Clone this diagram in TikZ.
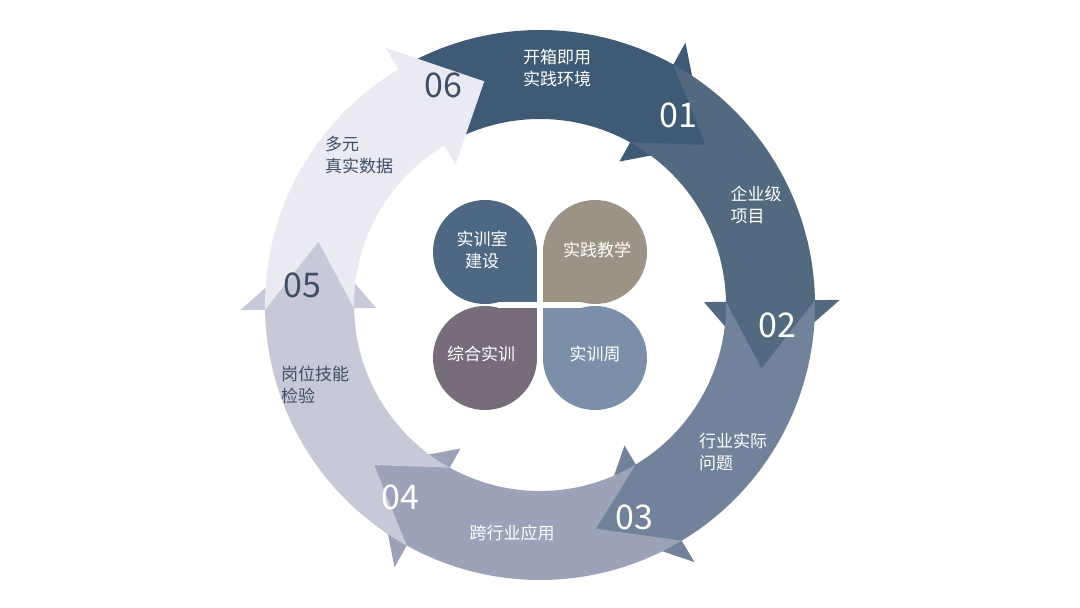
\documentclass[tikz,border=0pt]{standalone}
\usepackage{fontspec}
\usetikzlibrary{calc}
\setmainfont{Noto Sans CJK SC}
\begin{document}
\begin{tikzpicture}[x=1pt,y=1pt,
  lab/.style={text=white,font=\fontsize{17}{22}\selectfont,align=left},
  num/.style={font=\fontsize{34}{34}\selectfont},
  ptxt/.style={text=white,font=\fontsize{17}{22}\selectfont,align=center}]
\definecolor{cA}{HTML}{3F5A74}
\definecolor{cB}{HTML}{53697F}
\definecolor{cC}{HTML}{71829A}
\definecolor{cD}{HTML}{9CA3B8}
\definecolor{cE}{HTML}{C8C9D8}
\definecolor{cF}{HTML}{EAEAF3}
\definecolor{dk}{HTML}{3D4F66}
\definecolor{pA}{HTML}{4E6782}
\definecolor{pB}{HTML}{9B9486}
\definecolor{pC}{HTML}{776C79}
\definecolor{pD}{HTML}{7C8FA8}
\useasboundingbox (0,0) rectangle (1080,608);
\fill[white] (0,0) rectangle (1080,608);
\coordinate (c) at (540,303);
\def\Ro{275}\def\Ri{186}\def\Rm{230.5}\def\Ho{300}\def\Hi{164}\def\Hs{17}
\newcommand\seg[3]{%
  \pgfmathsetmacro\sb{#2+\Hs}\pgfmathsetmacro\eb{#3+\Hs}%
  \fill[#1] ($(c)+(\sb:\Ro)$) arc[start angle=\sb,end angle=\eb,radius=\Ro]
    -- ($(c)+(\eb:\Ho)$) -- ($(c)+(#3:\Rm)$) -- ($(c)+(\eb:\Hi)$)
    -- ($(c)+(\eb:\Ri)$) arc[start angle=\eb,end angle=\sb,radius=\Ri]
    -- ($(c)+(#2:\Rm)$) -- cycle;}
\seg{cA}{104}{44}
\seg{cB}{44}{-16}
\seg{cC}{-16}{-76}
\seg{cD}{-76}{-136}
\seg{cE}{-136}{-196}
\seg{cF}{164}{104}
% petals
\fill[pA] (485,356) circle (52); \fill[pA] (485,306) rectangle (537,356);
\fill[pB] (595,356) circle (52); \fill[pB] (543,306) rectangle (595,356);
\fill[pC] (485,250) circle (52); \fill[pC] (485,300) rectangle (537,250);
\fill[pD] (595,250) circle (52); \fill[pD] (543,300) rectangle (595,250);
\node[ptxt] (p1) at (482,358) {实训室\\建设};
\node[ptxt] (p2) at (597,358) {实践教学};
\node[ptxt] (p3) at (481,254) {综合实训};
\node[ptxt] (p4) at (595,254) {实训周};
% numbers
\node[num,text=dk] (n6) at (443,523) {06};
\node[num,text=white] (n1) at (678,493) {01};
\node[num,text=white] (n2) at (777,283) {02};
\node[num,text=white] (n3) at (634,91) {03};
\node[num,text=white] (n4) at (400,111) {04};
\node[num,text=dk] (n5) at (302,323) {05};
% labels
\node[lab] (l1) at (557,540) {开箱即用\\实践环境};
\node[lab] (l2) at (756,403) {企业级\\项目};
\node[lab] (l3) at (733,156) {行业实际\\问题};
\node[lab] (l4) at (512,75) {跨行业应用};
\node[lab,text=dk] (l5) at (315,223) {岗位技能\\检验};
\node[lab,text=dk] (l6) at (359,453) {多元\\真实数据};
\end{tikzpicture}
\end{document}
